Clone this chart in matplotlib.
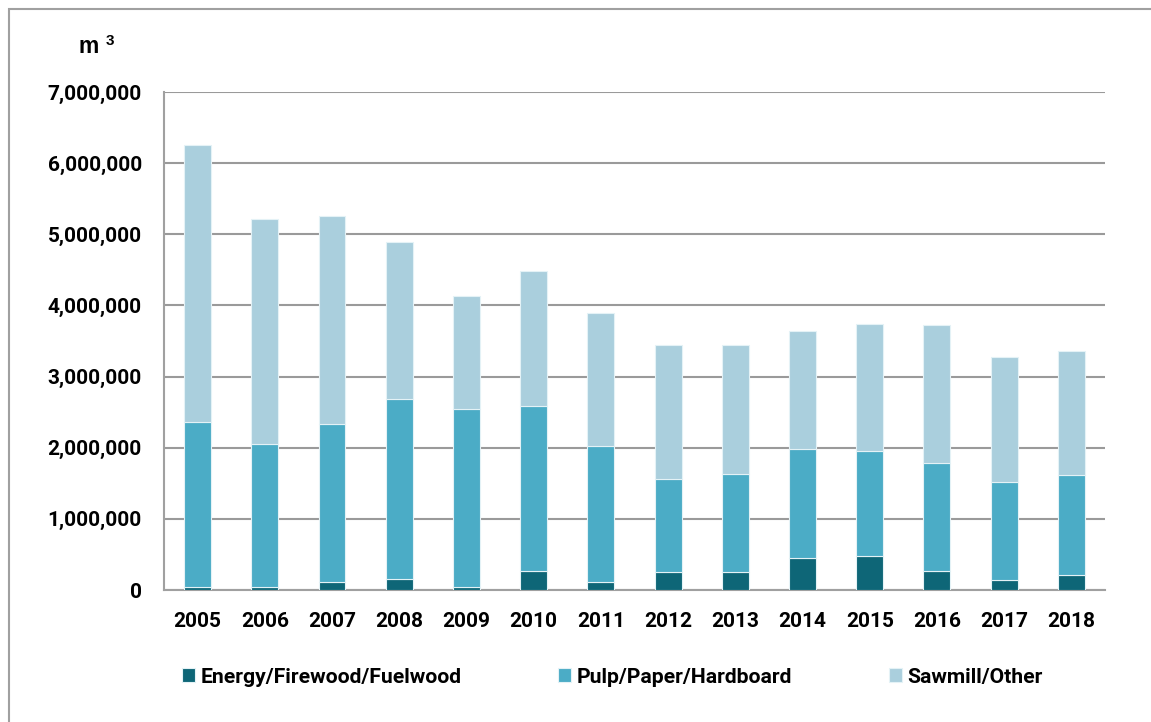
import matplotlib.pyplot as plt
from matplotlib.patches import Rectangle
from matplotlib.ticker import FuncFormatter
import numpy as np

plt.rcParams["font.family"] = ["Roboto", "DejaVu Sans"]
plt.rcParams["font.weight"] = "bold"

# ==================================
# DATA (m3)
# ==================================

years = [
    "2005", "2006", "2007", "2008", "2009", "2010", "2011",
    "2012", "2013", "2014", "2015", "2016", "2017", "2018"
]

energy = [
    42000, 40000, 116000, 154000, 40000, 266000, 116000,
    250000, 250000, 450000, 480000, 270000, 140000, 210000
]

pulp = [
    2318000, 2010000, 2224000, 2536000, 2510000, 2319000, 1914000,
    1310000, 1380000, 1530000, 1470000, 1510000, 1385000, 1410000
]

sawmill = [
    3895000, 3160000, 2910000, 2195000, 1580000, 1895000, 1870000,
    1890000, 1820000, 1665000, 1795000, 1950000, 1755000, 1745000
]

series_names = [
    "Energy/Firewood/Fuelwood",
    "Pulp/Paper/Hardboard",
    "Sawmill/Other"
]

colors = ["#0e6677", "#4bacc6", "#aacfdd"]

# ==================================
# FIGURE
# ==================================

fig = plt.figure(figsize=(11.51, 7.22), dpi=100)

ax = fig.add_axes([0.1425, 0.1828, 0.8175, 0.6898])

x = np.arange(len(years))

bottom = np.zeros(len(years))

for values, name, color in zip(
    [energy, pulp, sawmill],
    series_names,
    colors
):
    ax.bar(
        x,
        values,
        width=0.4,
        bottom=bottom,
        color=color,
        edgecolor="#e4f2f6",
        linewidth=0.8,
        label=name,
        zorder=3
    )
    bottom += np.array(values)

ax.set_xlim(-0.5, len(years) - 0.5)
ax.set_ylim(0, 7000000)
ax.set_yticks(np.arange(0, 7000001, 1000000))
ax.yaxis.set_major_formatter(
    FuncFormatter(lambda v, p: f"{int(v):,}")
)
ax.set_xticks(x)
ax.set_xticklabels(years)

ax.grid(axis="y", color="#9a9a9a", linewidth=1.5, zorder=0)

for side in ["top", "right"]:
    ax.spines[side].set_visible(False)

for side in ["left", "bottom"]:
    ax.spines[side].set_color("#a0a0a0")
    ax.spines[side].set_linewidth(1.5)

ax.tick_params(
    axis="both",
    length=0,
    labelsize=15,
    pad=16,
    colors="black"
)

for lbl in ax.get_xticklabels() + ax.get_yticklabels():
    lbl.set_fontweight("bold")

# unit label: m + superscript 3
fig.text(
    78 / 1151,
    1 - 53 / 722,
    "m",
    fontsize=16.5,
    fontweight="bold",
    family=["Liberation Sans", "DejaVu Sans"],
    ha="left",
    va="baseline"
)

fig.text(
    106 / 1151,
    1 - 45 / 722,
    "3",
    fontsize=11,
    fontweight="bold",
    family=["Liberation Sans", "DejaVu Sans"],
    ha="left",
    va="baseline"
)

# ==================================
# LEGEND
# ==================================

fig.legend(
    loc="center",
    bbox_to_anchor=(0.532, 0.062),
    ncol=3,
    frameon=False,
    handlelength=0.62,
    handleheight=0.62,
    handletextpad=0.25,
    columnspacing=4.6,
    prop={"weight": "bold", "size": 15.2}
)

# outer frame (left and top edges visible)
fig.patches.append(
    Rectangle(
        (9 / 1151, -0.05),
        1.2,
        1.05 - 9 / 722,
        transform=fig.transFigure,
        fill=False,
        edgecolor="#a0a0a0",
        linewidth=1.5
    )
)

plt.savefig("out.png", dpi=100)

plt.close()
